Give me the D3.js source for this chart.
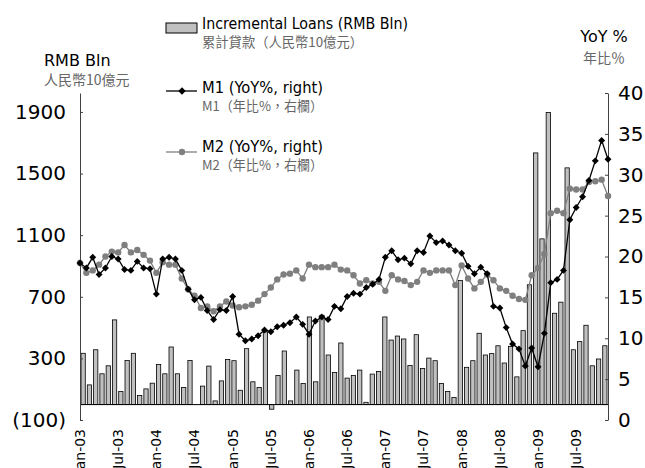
<!DOCTYPE html>
<html lang="en">
<head>
<meta charset="UTF-8">
<script src="https://cdn.jsdelivr.net/npm/d3@7"></script>
<title>Loans and money supply</title>
<style>
  body { margin: 0; background: #fff; }
  .axis text { font-family: "DejaVu Sans", Verdana, sans-serif; font-size: 20px; fill: #000; }
  .axis path, .axis line { stroke: #404040; }
  .xlab { font-family: "DejaVu Sans", Verdana, sans-serif; font-size: 14px; fill: #000; }
  .ttl { font-family: "DejaVu Sans", Verdana, sans-serif; font-size: 16px; fill: #000; }
  .cjk { font-family: "Noto Sans CJK TC", sans-serif; fill: #666; }
  .lg { font-family: "Liberation Sans Narrow", "DejaVu Sans Condensed", sans-serif; font-size: 16px; fill: #000; }
</style>
</head>
<body>
<svg id="chart" width="645" height="468"></svg>
<script>
// incremental loans, RMB bn, Jan-03 .. Dec-09
var loans = [
  333, 128, 356, 200, 252, 550, 85, 287, 333, 59, 102, 139,
  261, 200, 374, 200, 111, 287, 0, 120, 250, 24, 154, 293,
  285, 93, 363, 148, 111, 472, -30, 189, 348, 24, 224, 137,
  569, 148, 580, 322, 209, 400, 172, 189, 224, 15, 198, 215,
  569, 419, 445, 426, 254, 454, 235, 302, 285, 137, 85, 46,
  806, 242, 285, 463, 322, 331, 382, 270, 378, 180, 480, 778,
  1634, 1076, 1897, 593, 665, 1537, 356, 409, 515, 252, 296, 382
];
// M1 yoy %
var m1 = [
  19.2, 18.6, 19.9, 17.8, 18.6, 20.0, 19.7, 18.4, 18.3, 19.4, 18.6, 18.5,
  15.4, 19.7, 19.9, 19.7, 18.3, 16.0, 14.7, 15.0, 13.4, 12.3, 13.5, 13.4,
  15.1, 10.5, 9.7, 9.9, 10.3, 11.0, 10.8, 11.4, 11.6, 11.9, 12.6, 11.7,
  10.5, 12.1, 12.6, 12.3, 13.9, 13.6, 15.1, 15.5, 15.4, 16.2, 16.6, 17.2,
  19.9, 20.7, 19.6, 19.8, 19.1, 20.7, 20.5, 22.5, 21.7, 21.9, 21.4, 20.7,
  20.4, 18.8, 17.9, 18.7, 17.9, 13.9, 13.7, 11.3, 9.3, 8.7, 6.6, 8.8,
  6.5, 10.6, 16.8, 17.2, 18.3, 24.5, 26.0, 27.3, 29.3, 31.7, 34.2, 31.9
];
// M2 yoy %
var m2 = [
  19.2, 18.0, 18.3, 19.0, 20.0, 20.6, 20.5, 21.4, 20.5, 20.8, 20.2, 19.5,
  18.0, 19.3, 19.0, 19.0, 17.3, 16.0, 15.2, 13.7, 13.9, 13.3, 13.9, 14.5,
  14.0, 13.8, 13.9, 14.1, 14.6, 15.4, 16.2, 17.2, 17.8, 17.9, 18.3, 17.3,
  19.0, 18.7, 18.7, 18.7, 19.0, 18.4, 18.3, 17.7, 16.7, 17.1, 16.7, 16.9,
  15.8, 17.7, 17.2, 17.0, 16.5, 16.9, 18.3, 18.0, 18.3, 18.3, 18.3, 16.5,
  18.9, 17.3, 16.1, 16.9, 17.8, 17.1, 16.1, 15.8, 15.2, 14.8, 14.7, 17.7,
  18.6, 20.3, 25.3, 25.6, 25.3, 28.3, 28.2, 28.2, 29.1, 29.2, 29.4, 27.4
];
var tickLabels = ["Jan-03", "Jul-03", "Jan-04", "Jul-04", "Jan-05", "Jul-05", "Jan-06",
  "Jul-06", "Jan-07", "Jul-07", "Jan-08", "Jul-08", "Jan-09", "Jul-09"];
var leftTicks = [-100, 300, 700, 1100, 1500, 1900];
var rightTicks = [0, 5, 10, 15, 20, 25, 30, 35, 40];

var fmt = d3.utcFormat("%b-%y");
var months = d3.utcMonth.range(new Date(Date.UTC(2003, 0, 1)), new Date(Date.UTC(2010, 0, 1))).map(fmt);

var L = 80, R = 608, T = 93, B = 420;

var svg = d3.select("#chart");
svg.append("rect").attr("width", 645).attr("height", 468).attr("fill", "#fff");

var xBand = d3.scaleBand().domain(months).range([L, R]).paddingInner(0.32).paddingOuter(0.16);
var xPt = d3.scalePoint().domain(months).range([L, R]);
var yL = d3.scaleLinear().domain([-100, 2023]).range([B, T]);
var yR = d3.scaleLinear().domain([0, 40]).range([B, T]);

// bars
svg.append("g").selectAll("rect").data(loans).join("rect")
  .attr("x", function(d, i) { return xBand(months[i]); })
  .attr("width", xBand.bandwidth())
  .attr("y", function(d) { return yL(Math.max(0, d)); })
  .attr("height", function(d) { return Math.abs(yL(d) - yL(0)); })
  .attr("fill", "#c0c0c0")
  .attr("stroke", "#000")
  .attr("stroke-width", 0.8);

// zero line
svg.append("line")
  .attr("x1", L).attr("x2", R)
  .attr("y1", yL(0)).attr("y2", yL(0))
  .attr("stroke", "#000").attr("stroke-width", 1);

// axes
svg.append("g").attr("class", "axis").attr("transform", "translate(" + L + ",0)")
  .call(d3.axisLeft(yL).tickValues(leftTicks).tickSizeInner(-3).tickSizeOuter(0).tickPadding(14)
    .tickFormat(function(v) { return v < 0 ? "(" + Math.abs(v) + ")" : v; }));
svg.append("g").attr("class", "axis").attr("transform", "translate(" + R + ",0)")
  .call(d3.axisRight(yR).tickValues(rightTicks).tickSizeInner(-3).tickSizeOuter(0).tickPadding(10));

svg.append("g").selectAll("text").data(tickLabels).join("text")
  .attr("class", "xlab")
  .attr("transform", function(d) { return "translate(" + xPt(d) + "," + 429 + ") rotate(-90)"; })
  .attr("text-anchor", "end")
  .attr("dy", "0.35em")
  .text(function(d) { return d; });

// lines
var line = function(ys) {
  return d3.line().x(function(d, i) { return xPt(months[i]); }).y(function(d) { return ys(d); });
};
svg.append("path").datum(m2).attr("d", line(yR))
  .attr("fill", "none").attr("stroke", "#7f7f7f").attr("stroke-width", 1.3);
svg.append("g").selectAll("circle").data(m2).join("circle")
  .attr("cx", function(d, i) { return xPt(months[i]); })
  .attr("cy", function(d) { return yR(d); })
  .attr("r", 3.2).attr("fill", "#7f7f7f");

svg.append("path").datum(m1).attr("d", line(yR))
  .attr("fill", "none").attr("stroke", "#000").attr("stroke-width", 1.3);
var diamond = d3.symbol(d3.symbolSquare, 24);
svg.append("g").selectAll("path").data(m1).join("path")
  .attr("d", diamond)
  .attr("transform", function(d, i) { return "translate(" + xPt(months[i]) + "," + yR(d) + ") rotate(45)"; })
  .attr("fill", "#000");

// axis titles
svg.append("text").attr("class", "ttl").attr("x", 44).attr("y", 66).text("RMB Bln");
svg.append("text").attr("class", "cjk").attr("lang", "zh-TW").attr("x", 44).attr("y", 85).style("font-size", "14px").text("人民幣10億元");
svg.append("text").attr("class", "ttl").attr("x", 604).attr("y", 42).attr("text-anchor", "middle").text("YoY %");
svg.append("text").attr("class", "cjk").attr("lang", "zh-TW").attr("x", 604).attr("y", 63).attr("text-anchor", "middle").style("font-size", "14px").text("年比％");

// legend
var lg = svg.append("g");
lg.append("rect").attr("x", 166).attr("y", 23).attr("width", 31).attr("height", 10)
  .attr("fill", "#c0c0c0").attr("stroke", "#000").attr("stroke-width", 1);
lg.append("text").attr("class", "lg").attr("x", 202).attr("y", 29)
  .attr("textLength", 206).attr("lengthAdjust", "spacingAndGlyphs").text("Incremental Loans (RMB Bln)");
lg.append("text").attr("class", "cjk").attr("lang", "zh-TW").attr("x", 202).attr("y", 47).style("font-size", "13.5px")
  .attr("textLength", 161).attr("lengthAdjust", "spacingAndGlyphs").text("累計貸款（人民幣10億元）");

lg.append("line").attr("x1", 166).attr("x2", 197).attr("y1", 91).attr("y2", 91)
  .attr("stroke", "#000").attr("stroke-width", 1.3);
lg.append("path").attr("d", d3.symbol(d3.symbolSquare, 28))
  .attr("transform", "translate(182,91) rotate(45)").attr("fill", "#000");
lg.append("text").attr("class", "lg").attr("x", 202).attr("y", 93)
  .attr("textLength", 121).attr("lengthAdjust", "spacingAndGlyphs").text("M1 (YoY%, right)");
lg.append("text").attr("class", "cjk").attr("lang", "zh-TW").attr("x", 202).attr("y", 111).style("font-size", "13.5px")
  .attr("textLength", 121).attr("lengthAdjust", "spacingAndGlyphs").text("M1（年比%，右欄）");

lg.append("line").attr("x1", 166).attr("x2", 197).attr("y1", 152).attr("y2", 152)
  .attr("stroke", "#7f7f7f").attr("stroke-width", 1.3);
lg.append("circle").attr("cx", 182).attr("cy", 152).attr("r", 3.2).attr("fill", "#7f7f7f");
lg.append("text").attr("class", "lg").attr("x", 202).attr("y", 152)
  .attr("textLength", 121).attr("lengthAdjust", "spacingAndGlyphs").text("M2 (YoY%, right)");
lg.append("text").attr("class", "cjk").attr("lang", "zh-TW").attr("x", 202).attr("y", 170).style("font-size", "13.5px")
  .attr("textLength", 121).attr("lengthAdjust", "spacingAndGlyphs").text("M2（年比%，右欄）");
</script>
</body>
</html>
